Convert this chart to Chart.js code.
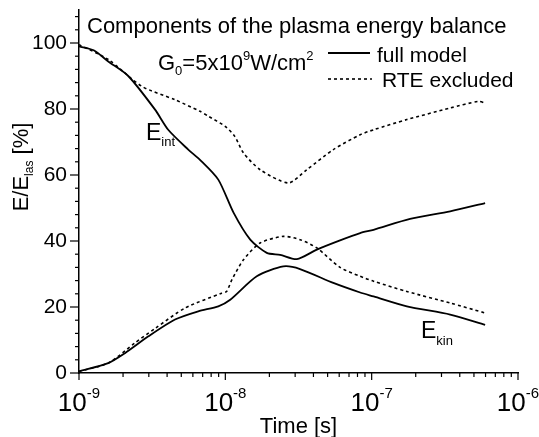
<!DOCTYPE html>
<html lang="en">
<head>
    <meta charset="UTF-8">
    <title>Components of the plasma energy balance</title>
    <style>
        body { background: #fff; margin: 0; }
        #wrap { width: 539px; height: 437px; }
    </style>
</head>
<body>
    <div id="wrap"><canvas id="chart" width="539" height="437"></canvas></div>

    <script src="https://cdn.jsdelivr.net/npm/chart.js@4/dist/chart.umd.min.js"></script>
    <script>
        // full model: internal energy
        const intFullTime = [1e-9, 1.26e-9, 1.585e-9, 2.17e-9, 3.31e-9, 4.07e-9, 5.58e-9, 6.71e-9, 8.95e-9, 1.14e-8, 1.48e-8, 1.92e-8, 2.37e-8, 3.08e-8, 4.22e-8, 6.08e-8, 8.34e-8, 1.03e-7, 1.83e-7, 3.44e-7, 5.96e-7];
        const intFullVal  = [99, 97.8, 94.4, 90, 79.8, 73.7, 67.7, 64.6, 58.6, 48.5, 40.4, 36.4, 35.8, 34.5, 37.4, 40.2, 42.4, 43.4, 46.7, 49, 51.5];

        // full model: kinetic energy
        const kinFullTime = [1e-9, 1.585e-9, 2.06e-9, 2.98e-9, 4.53e-9, 6.53e-9, 8.95e-9, 1.08e-8, 1.64e-8, 2.49e-8, 3.24e-8, 5.47e-8, 8.34e-8, 1.03e-7, 1.74e-7, 3.44e-7, 5.96e-7];
        const kinFullVal  = [0.5, 3, 6, 11.1, 16.2, 18.7, 20.2, 22.2, 29.3, 32.3, 31.5, 27.3, 24.4, 23.2, 20.2, 17.7, 14.6];

        // RTE excluded: internal energy
        const intNoRteTime = [1e-9, 1.585e-9, 2.68e-9, 4.53e-9, 6.71e-9, 7.66e-9, 1e-8, 1.16e-8, 1.33e-8, 1.73e-8, 2.70e-8, 3.60e-8, 5.47e-8, 8.34e-8, 1.03e-7, 1.74e-7, 3.44e-7, 5.36e-7, 5.96e-7];
        const intNoRteVal  = [99.5, 95, 86.9, 82.8, 79.3, 77.8, 74.7, 71.7, 66.7, 61.6, 57.6, 61.6, 67.7, 72.2, 73.7, 76.8, 80.3, 82.3, 81.8];

        // RTE excluded: kinetic energy
        const kinNoRteTime = [1e-9, 1.585e-9, 2.41e-9, 3.31e-9, 5.31e-9, 9.44e-9, 1.02e-8, 1.11e-8, 1.33e-8, 1.73e-8, 2.49e-8, 3.24e-8, 4.22e-8, 6.08e-8, 8.34e-8, 1.03e-7, 1.74e-7, 3.44e-7, 5.96e-7];
        const kinNoRteVal  = [0.5, 3, 9.1, 13.5, 19.7, 24.2, 24.7, 28.3, 34.3, 39.4, 41.4, 40.4, 37.9, 32, 29.3, 27.8, 24.7, 21.2, 18.2];

        const xTickExp = [-9, -8, -7, -6];
        const yTicks = [0, 20, 40, 60, 80, 100];

        const FONT = "'Liberation Sans', Arial, sans-serif";

        function pts(t, v) {
            return t.map((x, i) => ({ x: x, y: v[i] }));
        }

        function solid(t, v) {
            return { data: pts(t, v), borderColor: '#000', borderWidth: 1.8, pointRadius: 0, tension: 0.25, fill: false };
        }
        function dashed(t, v) {
            return { data: pts(t, v), borderColor: '#000', borderWidth: 1.6, borderDash: [3, 3], pointRadius: 0, tension: 0.25, fill: false };
        }

        // no automatic edge padding, the plot box is fixed by layout padding
        function fixBox(s, w, h) {
            if (w) s.width = w;
            if (h) s.height = h;
            s.paddingTop = 0; s.paddingBottom = 0; s.paddingLeft = 0; s.paddingRight = 0;
        }

        // draws sub/superscripted text pieces one after the other, returns end x
        function drawParts(ctx, x, y, parts) {
            parts.forEach(p => {
                ctx.font = p.size + 'px ' + FONT;
                ctx.fillText(p.t, x, y + (p.dy || 0));
                x += ctx.measureText(p.t).width;
            });
            return x;
        }
        function partsWidth(ctx, parts) {
            let w = 0;
            parts.forEach(p => { ctx.font = p.size + 'px ' + FONT; w += ctx.measureText(p.t).width; });
            return w;
        }

        const decor = {
            id: 'decor',
            afterDraw(chart) {
                const ctx = chart.ctx;
                const xs = chart.scales.x, ys = chart.scales.y;
                const area = chart.chartArea;
                ctx.save();
                ctx.strokeStyle = '#000';
                ctx.fillStyle = '#000';
                ctx.lineWidth = 1.2;

                // y ticks (outward), minor every 4
                for (let v = 0; v <= 108; v += 4) {
                    const y = ys.getPixelForValue(v);
                    const len = v % 20 === 0 ? 9 : 4;
                    ctx.beginPath();
                    ctx.moveTo(area.left, y);
                    ctx.lineTo(area.left - len, y);
                    ctx.stroke();
                }
                // x ticks (outward), major at decades, minor 2..9
                for (let e = -9; e <= -6; e++) {
                    for (let m = 1; m <= 9; m++) {
                        if (e === -6 && m > 1) break;
                        const x = xs.getPixelForValue(m * Math.pow(10, e));
                        const len = m === 1 ? 7 : 4;
                        ctx.beginPath();
                        ctx.moveTo(x, area.bottom);
                        ctx.lineTo(x, area.bottom + len);
                        ctx.stroke();
                    }
                }

                // x tick labels 10^n
                ctx.textAlign = 'left';
                ctx.textBaseline = 'alphabetic';
                xTickExp.forEach(e => {
                    const parts = [{ t: '10', size: 26 }, { t: '-' + Math.abs(e), size: 15, dy: -13 }];
                    const w = partsWidth(ctx, parts);
                    const x = xs.getPixelForValue(Math.pow(10, e));
                    drawParts(ctx, x - w / 2, area.bottom + 38, parts);
                });

                // axis titles
                ctx.font = '22px ' + FONT;
                ctx.textAlign = 'center';
                ctx.fillText('Time [s]', (area.left + area.right) / 2, 433);
                ctx.textAlign = 'left';

                ctx.save();
                ctx.translate(28, 167);
                ctx.rotate(-Math.PI / 2);
                const yParts = [{ t: 'E/E', size: 22 }, { t: 'las', size: 12, dy: 5 }, { t: ' [%]', size: 22 }];
                drawParts(ctx, -partsWidth(ctx, yParts) / 2, 0, yParts);
                ctx.restore();

                // title and parameter
                ctx.font = '22px ' + FONT;
                ctx.fillText('Components of the plasma energy balance', 87, 33);
                drawParts(ctx, 158, 70, [
                    { t: 'G', size: 22 }, { t: '0', size: 13, dy: 5 },
                    { t: '=5x10', size: 22 }, { t: '9', size: 13, dy: -10 },
                    { t: 'W/cm', size: 22 }, { t: '2', size: 13, dy: -10 }
                ]);

                // legend
                ctx.lineWidth = 1.8;
                ctx.beginPath(); ctx.moveTo(328, 53); ctx.lineTo(370, 53); ctx.stroke();
                ctx.lineWidth = 1.6;
                ctx.setLineDash([3, 3]);
                ctx.beginPath(); ctx.moveTo(328, 79); ctx.lineTo(372, 79); ctx.stroke();
                ctx.setLineDash([]);
                ctx.font = '21px ' + FONT;
                ctx.fillText('full model', 377, 62);
                ctx.fillText('RTE excluded', 382, 87);

                // curve labels
                drawParts(ctx, 146, 140, [{ t: 'E', size: 23 }, { t: 'int', size: 13, dy: 6 }]);
                drawParts(ctx, 421, 338, [{ t: 'E', size: 23 }, { t: 'kin', size: 13, dy: 7 }]);

                ctx.restore();
            }
        };

        new Chart(document.getElementById('chart'), {
            type: 'line',
            data: {
                datasets: [
                    solid(intFullTime, intFullVal),
                    solid(kinFullTime, kinFullVal),
                    dashed(intNoRteTime, intNoRteVal),
                    dashed(kinNoRteTime, kinNoRteVal)
                ]
            },
            options: {
                responsive: false,
                animation: false,
                layout: { padding: { top: 10, right: 21, left: 0, bottom: 0 } },
                plugins: { legend: { display: false }, tooltip: { enabled: false } },
                scales: {
                    x: {
                        type: 'logarithmic',
                        min: 1e-9, max: 1e-6,
                        ticks: { display: false },
                        grid: { display: false },
                        border: { display: true, color: '#000', width: 1.5 },
                        afterFit: s => fixBox(s, 0, 64)
                    },
                    y: {
                        min: 0, max: 110,
                        afterBuildTicks: s => { s.ticks = yTicks.map(v => ({ value: v })); },
                        ticks: { color: '#000', font: { family: FONT, size: 21 }, padding: 12 },
                        grid: { display: false, drawTicks: false },
                        border: { display: true, color: '#000', width: 1.5 },
                        afterFit: s => fixBox(s, 79, 0)
                    }
                }
            },
            plugins: [decor]
        });
    </script>
</body>
</html>
